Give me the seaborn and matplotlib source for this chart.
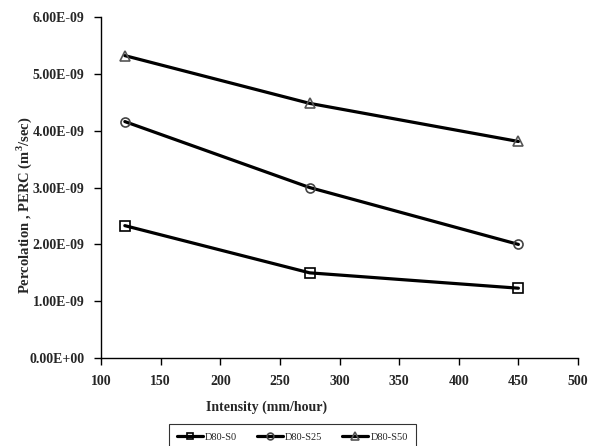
import matplotlib
matplotlib.use("Agg")
import matplotlib.pyplot as plt
from matplotlib.ticker import FuncFormatter, MultipleLocator
import seaborn as sns
import pandas as pd

intensity = [120, 275, 450]
perc_s0 = [2.33e-9, 1.50e-9, 1.23e-9]
perc_s25 = [4.16e-9, 3.00e-9, 2.00e-9]
perc_s50 = [5.32e-9, 4.48e-9, 3.81e-9]
series_names = ["D80-S0", "D80-S25", "D80-S50"]

df = pd.DataFrame({
    "Intensity": intensity * 3,
    "PERC": perc_s0 + perc_s25 + perc_s50,
    "Series": [n for n in series_names for _ in intensity],
})

sns.set_theme(style="white")
plt.rcParams["font.family"] = ["Liberation Serif", "DejaVu Serif"]
plt.rcParams["mathtext.fontset"] = "custom"
plt.rcParams["mathtext.rm"] = "Liberation Serif"
plt.rcParams["mathtext.bf"] = "Liberation Serif:bold"

fig = plt.figure(figsize=(5.99, 4.46), dpi=100)
ax = fig.add_axes([0.1686, 0.197, 0.7964, 0.765])

markers = {"D80-S0": "s", "D80-S25": "o", "D80-S50": "^"}
edge = {"D80-S0": "black", "D80-S25": "#444444", "D80-S50": "#555555"}
msize = {"D80-S0": 6.5, "D80-S25": 6.5, "D80-S50": 7}

for name in series_names:
    sub = df[df["Series"] == name]
    sns.lineplot(data=sub, x="Intensity", y="PERC", ax=ax, color="black",
                 linewidth=2.3, marker=markers[name], markersize=msize[name],
                 markerfacecolor="none", markeredgecolor=edge[name],
                 markeredgewidth=1.2, label=name)

ax.set_xlim(100, 500)
ax.set_ylim(0, 6e-9)
ax.xaxis.set_major_locator(MultipleLocator(50))
ax.yaxis.set_major_locator(MultipleLocator(1e-9))
ax.yaxis.set_major_formatter(FuncFormatter(lambda v, p: f"{v:.2E}"))
ax.yaxis.get_offset_text().set_visible(False)

for s in ["top", "right"]:
    ax.spines[s].set_visible(False)
for s in ["left", "bottom"]:
    ax.spines[s].set_color("black")
    ax.spines[s].set_linewidth(1.0)

ax.tick_params(axis="both", which="major", direction="out", length=5,
               width=1.0, color="black", labelsize=10, pad=7,
               left=True, bottom=True)
for lbl in ax.get_xticklabels() + ax.get_yticklabels():
    lbl.set_fontweight("bold")

ax.set_xlabel("Intensity (mm/hour)", fontsize=10, fontweight="bold")
ax.xaxis.set_label_coords(0.348, -0.125)
ax.set_ylabel(r"Percolation , PERC (m$^{\mathbf{3}}$/sec)", fontsize=10.5,
              fontweight="bold")
ax.yaxis.set_label_coords(-0.14, 0.447)

handles, labels = ax.get_legend_handles_labels()
leg = fig.legend(handles, labels, loc="upper center", ncol=3,
                 bbox_to_anchor=(0.488, 1 - 419 / 446),
                 frameon=True, fancybox=False, fontsize=7.5,
                 handlelength=2.5, handletextpad=0.2, columnspacing=1.9,
                 borderpad=0.8, markerscale=0.75)
leg.get_frame().set_edgecolor("black")
leg.get_frame().set_linewidth(0.8)
if ax.get_legend():
    ax.get_legend().remove()

fig.savefig("out.png", dpi=100)
